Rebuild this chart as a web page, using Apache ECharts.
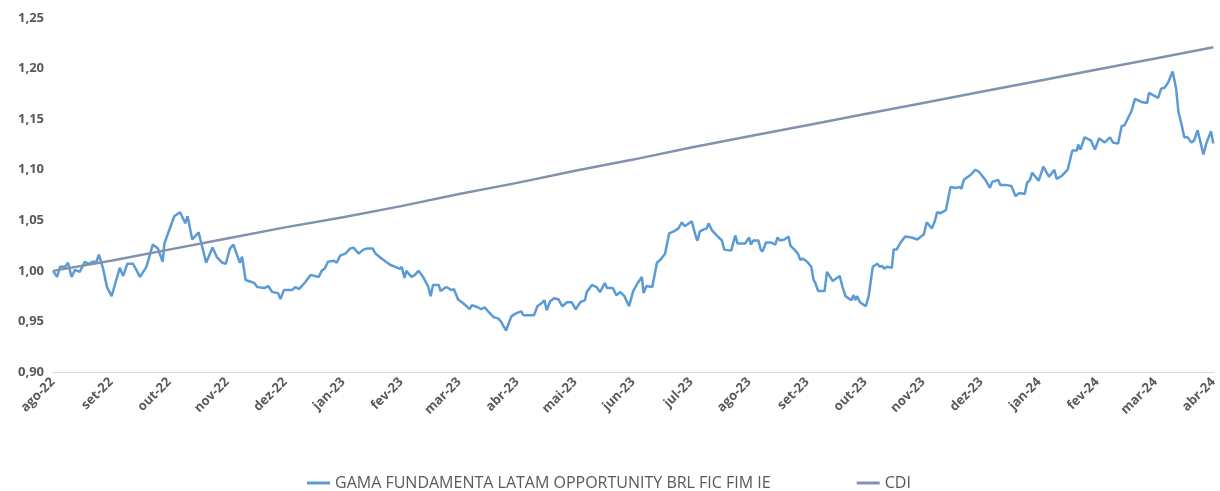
<!DOCTYPE html>
<html>
<head>
<meta charset="utf-8">
<script src="https://cdn.jsdelivr.net/npm/echarts@6/dist/echarts.min.js"></script>
<style>
  html, body { margin: 0; padding: 0; background: #fff; }
  #main { width: 1220px; height: 491px; }
</style>
</head>
<body>
<div id="main"></div>
<script>
// month labels (x = month index from ago-22)
var months = ['ago-22', 'set-22', 'out-22', 'nov-22', 'dez-22', 'jan-23', 'fev-23', 'mar-23', 'abr-23', 'mai-23',
  'jun-23', 'jul-23', 'ago-23', 'set-23', 'out-23', 'nov-23', 'dez-23', 'jan-24', 'fev-24', 'mar-24', 'abr-24']

// GAMA fund, position in months and index value
var fundMonth = [0, 0.07, 0.12, 0.21, 0.26, 0.32, 0.38, 0.46, 0.55, 0.61, 0.69, 0.75, 0.79, 0.86, 0.93, 1.01, 1.08, 1.15, 1.21, 1.28,
  1.38, 1.50, 1.61, 1.72, 1.81, 1.89, 1.92, 2.09, 2.19, 2.28, 2.32, 2.40, 2.51, 2.64, 2.75, 2.83, 2.92, 2.98, 3.05, 3.11,
  3.22, 3.26, 3.32, 3.47, 3.52, 3.64, 3.71, 3.78, 3.88, 3.92, 3.98, 4.12, 4.18, 4.24, 4.35, 4.38, 4.44, 4.58, 4.63, 4.68,
  4.74, 4.84, 4.89, 4.95, 5.04, 5.12, 5.18, 5.27, 5.31, 5.35, 5.41, 5.51, 5.56, 5.67, 5.81, 5.90, 5.98, 6.01, 6.06, 6.09,
  6.18, 6.24, 6.30, 6.38, 6.47, 6.51, 6.55, 6.65, 6.68, 6.78, 6.87, 6.91, 6.98, 7.07, 7.15, 7.18, 7.22, 7.32, 7.38, 7.44,
  7.50, 7.60, 7.67, 7.72, 7.81, 7.90, 7.98, 8.07, 8.11, 8.29, 8.35, 8.44, 8.47, 8.51, 8.57, 8.64, 8.71, 8.78, 8.86, 8.94,
  9.01, 9.09, 9.17, 9.20, 9.29, 9.37, 9.43, 9.51, 9.55, 9.65, 9.71, 9.78, 9.85, 9.93, 10.00, 10.08, 10.15, 10.18, 10.23, 10.33,
  10.41, 10.47, 10.55, 10.62, 10.70, 10.78, 10.84, 10.89, 11.01, 11.09, 11.11, 11.15, 11.22, 11.27, 11.30, 11.36, 11.44, 11.53, 11.57, 11.69,
  11.76, 11.80, 11.93, 12.00, 12.03, 12.07, 12.16, 12.20, 12.23, 12.29, 12.38, 12.45, 12.49, 12.53, 12.61, 12.68, 12.71, 12.78, 12.84, 12.88,
  12.93, 13.00, 13.07, 13.11, 13.14, 13.19, 13.30, 13.34, 13.37, 13.44, 13.56, 13.61, 13.66, 13.76, 13.80, 13.83, 13.86, 13.91, 14.01, 14.06,
  14.13, 14.21, 14.25, 14.29, 14.33, 14.37, 14.46, 14.49, 14.54, 14.61, 14.69, 14.80, 14.90, 14.96, 15.01, 15.06, 15.15, 15.20, 15.24, 15.30,
  15.39, 15.47, 15.56, 15.63, 15.66, 15.70, 15.82, 15.90, 15.96, 16.07, 16.15, 16.19, 16.29, 16.33, 16.42, 16.52, 16.59, 16.66, 16.75, 16.79,
  16.84, 16.88, 16.99, 17.07, 17.17, 17.26, 17.30, 17.39, 17.49, 17.57, 17.65, 17.67, 17.71, 17.78, 17.89, 17.96, 18.03, 18.13, 18.22, 18.27,
  18.36, 18.42, 18.47, 18.59, 18.65, 18.76, 18.86, 18.89, 19.05, 19.10, 19.16, 19.22, 19.30, 19.36, 19.40, 19.46, 19.50, 19.56, 19.62, 19.67,
  19.73, 19.78, 19.83, 19.88, 19.96, 20.00]
var fundValue = [1.000, 0.994, 1.004, 1.004, 1.008, 0.994, 1.001, 0.999, 1.009, 1.007, 1.009, 1.009, 1.016, 1.003, 0.984, 0.975, 0.989, 1.003, 0.995, 1.007,
  1.007, 0.994, 1.004, 1.026, 1.022, 1.009, 1.027, 1.054, 1.058, 1.047, 1.054, 1.031, 1.038, 1.008, 1.023, 1.013, 1.008, 1.007, 1.022, 1.026,
  1.008, 1.014, 0.991, 0.988, 0.984, 0.983, 0.985, 0.979, 0.978, 0.972, 0.981, 0.981, 0.984, 0.982, 0.989, 0.988, 0.996, 0.994, 1.000, 1.002,
  1.009, 1.010, 1.008, 1.015, 1.017, 1.022, 1.023, 1.017, 1.019, 1.021, 1.022, 1.022, 1.017, 1.012, 1.006, 1.004, 1.002, 1.004, 0.993, 1.000,
  0.994, 0.996, 1.000, 0.994, 0.984, 0.975, 0.986, 0.986, 0.980, 0.984, 0.981, 0.982, 0.972, 0.968, 0.964, 0.962, 0.966, 0.964, 0.962, 0.964,
  0.960, 0.954, 0.953, 0.950, 0.941, 0.955, 0.958, 0.960, 0.956, 0.956, 0.965, 0.969, 0.971, 0.961, 0.970, 0.973, 0.972, 0.965, 0.969, 0.969,
  0.962, 0.969, 0.971, 0.979, 0.986, 0.984, 0.979, 0.988, 0.983, 0.983, 0.976, 0.979, 0.975, 0.965, 0.980, 0.988, 0.994, 0.978, 0.985, 0.984,
  1.008, 1.011, 1.017, 1.037, 1.039, 1.042, 1.048, 1.044, 1.049, 1.032, 1.030, 1.039, 1.041, 1.042, 1.047, 1.040, 1.035, 1.030, 1.021, 1.020,
  1.035, 1.027, 1.027, 1.033, 1.026, 1.030, 1.030, 1.021, 1.019, 1.028, 1.028, 1.026, 1.033, 1.030, 1.031, 1.034, 1.025, 1.021, 1.017, 1.011,
  1.012, 1.009, 1.004, 0.991, 0.988, 0.980, 0.980, 0.999, 0.999, 0.990, 0.995, 0.984, 0.975, 0.971, 0.976, 0.971, 0.975, 0.969, 0.965, 0.975,
  1.004, 1.007, 1.004, 1.005, 1.002, 1.004, 1.003, 1.021, 1.021, 1.028, 1.034, 1.033, 1.031, 1.034, 1.036, 1.048, 1.042, 1.049, 1.058, 1.057,
  1.060, 1.083, 1.082, 1.083, 1.081, 1.090, 1.095, 1.100, 1.098, 1.090, 1.082, 1.088, 1.090, 1.085, 1.085, 1.084, 1.074, 1.077, 1.076, 1.087,
  1.090, 1.097, 1.089, 1.103, 1.093, 1.100, 1.091, 1.094, 1.100, 1.119, 1.119, 1.125, 1.120, 1.132, 1.129, 1.120, 1.131, 1.127, 1.132, 1.127,
  1.126, 1.143, 1.144, 1.158, 1.170, 1.167, 1.166, 1.176, 1.171, 1.180, 1.181, 1.186, 1.197, 1.180, 1.157, 1.143, 1.132, 1.132, 1.127, 1.129,
  1.139, 1.127, 1.115, 1.126, 1.138, 1.126]

// CDI, monthly
var cdiMonth = [0, 1, 2, 3, 4, 5, 6, 7, 8, 9, 10, 11, 12, 13, 14, 15, 16, 17, 18, 19, 20]
var cdiValue = [1.000, 1.010, 1.021, 1.032, 1.043, 1.053, 1.064, 1.076, 1.087, 1.099, 1.110,
  1.122, 1.133, 1.144, 1.155, 1.166, 1.177, 1.188, 1.199, 1.210, 1.221]

function pairs(xs, ys) {
  var res = []
  for (var i = 0; i < xs.length; i++) res.push([xs[i], ys[i]])
  return res
}

var myChart = echarts.init(document.getElementById('main'))

var option = {
  animation: false,
  textStyle: { fontFamily: 'Open Sans' },
  grid: { left: 53, right: 1, top: 18, bottom: 119, containLabel: false },
  legend: {
    left: 302,
    top: 470,
    icon: 'rect',
    itemWidth: 23,
    itemHeight: 3,
    itemGap: 86,
    textStyle: { color: '#595959', fontSize: 16, fontFamily: 'Open Sans' },
    data: ['GAMA FUNDAMENTA LATAM OPPORTUNITY BRL FIC FIM IE', 'CDI']
  },
  xAxis: {
    type: 'value',
    min: 0,
    max: 20,
    interval: 1,
    axisLine: { onZero: false, lineStyle: { color: '#d9d9d9', width: 1 } },
    axisTick: { show: false },
    splitLine: { show: false },
    axisLabel: {
      rotate: 45,
      margin: 8,
      color: '#595959',
      fontSize: 13,
      fontWeight: 'bold',
      fontFamily: 'Open Sans',
      formatter: function (v) { return months[Math.round(v)] }
    }
  },
  yAxis: {
    type: 'value',
    min: 0.9,
    max: 1.25,
    interval: 0.05,
    axisLine: { show: false },
    axisTick: { show: false },
    splitLine: { show: false },
    axisLabel: {
      margin: 9,
      color: '#595959',
      fontSize: 13,
      fontWeight: 'bold',
      fontFamily: 'Open Sans',
      formatter: function (v) { return v.toFixed(2).replace('.', ',') }
    }
  },
  series: [
    {
      name: 'GAMA FUNDAMENTA LATAM OPPORTUNITY BRL FIC FIM IE',
      type: 'line',
      showSymbol: false,
      lineStyle: { color: '#5B9BD5', width: 2.5 },
      itemStyle: { color: '#5B9BD5' },
      data: pairs(fundMonth, fundValue)
    },
    {
      name: 'CDI',
      type: 'line',
      showSymbol: false,
      lineStyle: { color: '#8291AE', width: 2.5 },
      itemStyle: { color: '#8291AE' },
      data: pairs(cdiMonth, cdiValue)
    }
  ]
}

myChart.setOption(option)
</script>
</body>
</html>
